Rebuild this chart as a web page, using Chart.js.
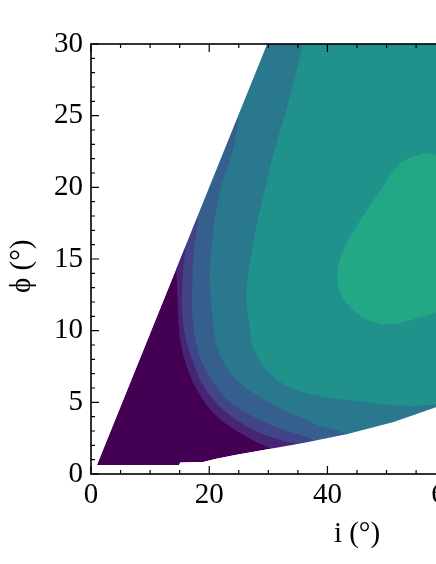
<!DOCTYPE html>
<html>
<head>
<meta charset="utf-8">
<script src="https://cdn.jsdelivr.net/npm/chart.js@4"></script>
<style>
  html, body { margin: 0; padding: 0; overflow: hidden; background: #fff; }
  #wrap { width: 640px; height: 564px; }
</style>
</head>
<body>
<div id="wrap"><canvas id="myChart"></canvas></div>
<script>
// axis ticks
const xMajor = [0, 20, 40, 60, 80];
const yMajor = [0, 5, 10, 15, 20, 25, 30];

// contour level colours (viridis), low -> high
const levelColors = ["#440154", "#482475", "#414487", "#355f8d", "#2a788e", "#21918c", "#22a884"];

// edges of the allowed (i, phi) domain
const edgeUpper = [[1.0, 0.63], [29.8, 30.0]];
const edgeLower = [
  [1.0, 0.63], [14.9, 0.63], [15.1, 0.8], [19.0, 0.84], [21.0, 1.05], [24.4, 1.33],
  [29.2, 1.67], [35.9, 2.16], [43.4, 2.79], [51.2, 3.63], [58.0, 4.6], [65.9, 5.86],
  [74.4, 7.4], [82.9, 9.2], [90, 10.9],
];

// contour boundaries (left side of each band), from upper edge down to lower edge
const level1 = [
  [14.07, 14.79], [14.41, 14.23], [14.58, 12.84], [14.75, 11.09], [15.08, 9.35], [15.93, 7.81],
  [17.29, 6.35], [18.98, 5.16], [20.68, 4.26], [22.88, 3.49], [25.25, 2.86], [27.63, 2.30],
  [29.83, 1.88], [31.69, 1.53],
];
const level2 = [
  [15.59, 16.47], [15.93, 15.84], [15.59, 14.23], [15.42, 12.84], [15.42, 11.44], [15.76, 10.05],
  [16.44, 8.79], [17.46, 7.60], [18.47, 6.56], [20.17, 5.44], [22.37, 4.47], [24.92, 3.70],
  [27.46, 3.07], [30.34, 2.58], [33.22, 2.23], [36.27, 1.88],
];
const level3 = [
  [17.80, 18.56], [18.14, 17.93], [17.63, 16.33], [17.29, 14.93], [17.12, 12.84], [17.12, 11.44],
  [17.29, 10.40], [17.63, 9.35], [18.47, 8.09], [19.66, 7.05], [21.19, 6.07], [23.05, 5.16],
  [25.59, 4.40], [28.64, 3.77], [31.19, 3.28], [33.73, 2.93], [35.93, 2.65], [38.47, 2.09],
];
const level4 = [
  [24.58, 25.53], [24.92, 24.91], [24.41, 23.30], [23.22, 21.56], [21.86, 19.81], [21.02, 18.07],
  [20.51, 16.33], [20.17, 14.58], [20.17, 12.84], [20.51, 11.09], [21.02, 9.35], [22.03, 8.09],
  [23.56, 7.05], [25.42, 6.28], [27.46, 5.65], [30.00, 5.02], [32.54, 4.47], [34.92, 4.05],
  [37.12, 3.63], [39.32, 3.28], [41.36, 3.07], [44.24, 2.51],
];
const level5 = [
  [35.9, 30.0], [34.6, 27.84], [33.2, 25.61], [31.7, 23.51], [30.3, 21.42], [29.2, 19.47],
  [28.1, 17.51], [27.3, 15.77], [26.6, 14.02], [26.3, 12.84], [26.4, 11.44], [26.8, 10.40],
  [27.3, 9.0], [29.0, 7.60], [31.5, 6.56], [34.6, 5.86], [37.1, 5.58], [40.5, 5.30],
  [44.7, 5.09], [49.0, 4.88], [54.1, 4.74], [58.5, 4.81], [61.0, 4.3],
];
// closed top level
const level6 = [
  [56.3, 22.40], [52.4, 21.70], [49.0, 19.81], [45.6, 17.72], [42.7, 15.63], [41.7, 14.02],
  [42.2, 12.63], [44.4, 11.44], [47.8, 10.60], [51.2, 10.47], [55.3, 10.88], [58.5, 11.30],
  [61.7, 12.14], [63.9, 13.4], [65.1, 15.28], [64.9, 17.37], [63.6, 19.47], [61.2, 21.35],
  [58.8, 22.26],
];

const X_MAX = 90, Y_MAX = 30;
const serif = "'Liberation Serif', 'DejaVu Serif', serif";

function toPts(arr) {
  return arr.map(p => ({ x: p[0], y: p[1] }));
}

// region above a boundary curve, closed round the right of the plot
function bandRegion(curve) {
  const first = curve[0], last = curve[curve.length - 1];
  return curve.concat([[last[0], 0], [X_MAX, 0], [X_MAX, Y_MAX], [first[0], Y_MAX]]);
}

const domain = edgeUpper.concat([[X_MAX, Y_MAX]], edgeLower.slice().reverse());
const outside = [[0, 0], [0, Y_MAX]].concat(edgeUpper.slice().reverse(), edgeLower.slice(1), [[X_MAX, 0]]);

const shapes = [
  { poly: domain, color: levelColors[0], smooth: 0 },
  { poly: bandRegion(level1), color: levelColors[1], smooth: 0.3 },
  { poly: bandRegion(level2), color: levelColors[2], smooth: 0.3 },
  { poly: bandRegion(level3), color: levelColors[3], smooth: 0.3 },
  { poly: bandRegion(level4), color: levelColors[4], smooth: 0.3 },
  { poly: bandRegion(level5), color: levelColors[5], smooth: 0.3 },
  { poly: level6, color: levelColors[6], smooth: 0.4 },
  { poly: outside, color: "#ffffff", smooth: 0 },
];

const datasets = shapes.map((s, k) => ({
  data: toPts(s.poly),
  showLine: true,
  fill: "shape",
  tension: s.smooth,
  backgroundColor: s.color,
  borderColor: "transparent",
  borderWidth: 0,
  pointRadius: 0,
  order: shapes.length - k,
}));

// frame and inward ticks on all sides
const frameTicks = {
  id: "frameTicks",
  afterDatasetsDraw(chart) {
    const { ctx, chartArea: a, scales } = chart;
    const x = scales.x, y = scales.y;
    ctx.save();
    ctx.strokeStyle = "#000";
    ctx.lineWidth = 1.2;
    ctx.beginPath();
    for (let v = 0; v <= X_MAX; v += 5) {
      const px = x.getPixelForValue(v);
      const len = xMajor.includes(v) ? 8 : 4;
      ctx.moveTo(px, a.bottom); ctx.lineTo(px, a.bottom - len);
      ctx.moveTo(px, a.top); ctx.lineTo(px, a.top + len);
    }
    for (let v = 0; v <= Y_MAX; v += 1) {
      const py = y.getPixelForValue(v);
      const len = yMajor.includes(v) ? 8 : 4;
      ctx.moveTo(a.left, py); ctx.lineTo(a.left + len, py);
      ctx.moveTo(a.right, py); ctx.lineTo(a.right - len, py);
    }
    ctx.stroke();
    ctx.lineWidth = 1.6;
    ctx.strokeRect(a.left, a.top, a.right - a.left, a.bottom - a.top);
    ctx.restore();
  },
};

const ctx = document.getElementById("myChart");
new Chart(ctx, {
  type: "scatter",
  data: { datasets },
  options: {
    responsive: true,
    maintainAspectRatio: false,
    animation: false,
    layout: { padding: { top: 44, right: 17, left: 0, bottom: 0 } },
    plugins: {
      legend: { display: false },
      tooltip: { enabled: false },
    },
    scales: {
      x: {
        type: "linear",
        min: 0,
        max: X_MAX,
        afterFit: (s) => { s.height = 90; },
        grid: { display: false, drawTicks: false },
        border: { display: false },
        ticks: {
          stepSize: 20,
          autoSkip: false,
          maxRotation: 0,
          padding: 4,
          color: "#000",
          font: { family: serif, size: 29 },
          callback: (v) => (xMajor.includes(v) ? v : ""),
        },
        title: {
          display: true,
          text: "i (°)",
          color: "#000",
          font: { family: serif, size: 29 },
          padding: { top: 0, bottom: 12 },
        },
      },
      y: {
        type: "linear",
        min: 0,
        max: Y_MAX,
        afterFit: (s) => { s.width = 91; },
        grid: { display: false, drawTicks: false },
        border: { display: false },
        ticks: {
          stepSize: 5,
          padding: 8,
          color: "#000",
          font: { family: serif, size: 29 },
        },
        title: {
          display: true,
          text: "ϕ (°)\u2002",
          color: "#000",
          font: { family: serif, size: 29 },
          padding: { top: 5, bottom: 0 },
        },
      },
    },
  },
  plugins: [frameTicks],
});
</script>
</body>
</html>
